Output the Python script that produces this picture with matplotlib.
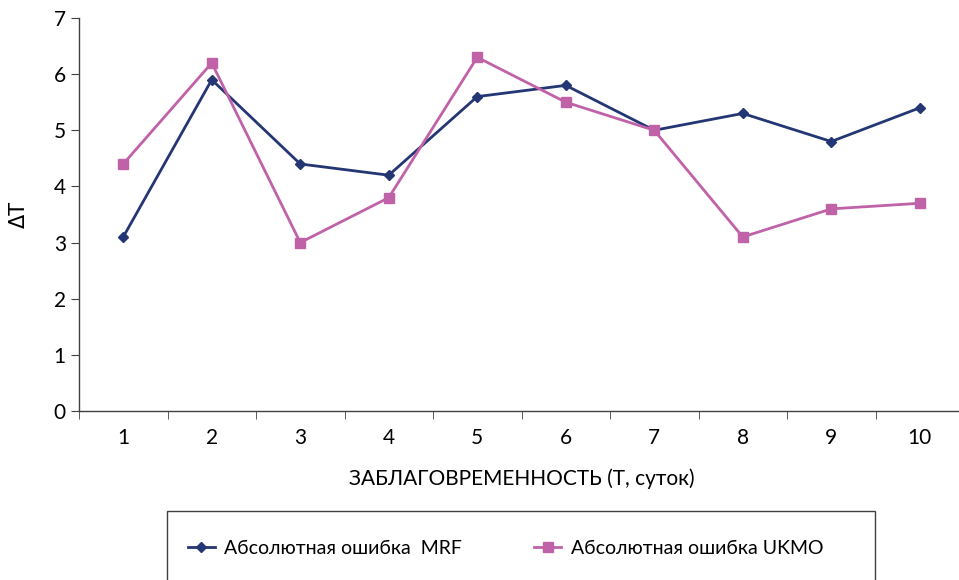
import matplotlib.pyplot as plt
import numpy as np
from matplotlib.patches import Rectangle

plt.rcParams["font.family"] = ["Lato", "DejaVu Sans"]

days = [1, 2, 3, 4, 5, 6, 7, 8, 9, 10]
mrf_err = [3.1, 5.9, 4.4, 4.2, 5.6, 5.8, 5.0, 5.3, 4.8, 5.4]
ukmo_err = [4.4, 6.2, 3.0, 3.8, 6.3, 5.5, 5.0, 3.1, 3.6, 3.7]
y_ticks = [0, 1, 2, 3, 4, 5, 6, 7]

W, H = 959, 580
fig = plt.figure(figsize=(W / 100, H / 100), dpi=100)
ax = fig.add_axes((79 / W, (H - 411) / H, (964 - 79) / W, (411 - 18) / H))

ax.plot(days, mrf_err, color="#243673", lw=2.0, marker="D", ms=5.5,
        label="Абсолютная ошибка  MRF")
ax.plot(days, ukmo_err, color="#C062A8", lw=2.0, marker="s", ms=7,
        label="Абсолютная ошибка UKMO")

ax.set_xlim(0.5, 10.5)
ax.set_ylim(0, 7)
ax.set_yticks(y_ticks)
ax.set_xticks(days)
ax.set_xticks(np.arange(0.5, 11, 1), minor=True)
ax.tick_params(axis="x", which="major", length=0, pad=12, labelsize=15)
ax.tick_params(axis="x", which="minor", length=6, direction="out", color="#404040")
ax.tick_params(axis="y", length=6, direction="out", labelsize=15, color="#404040")

for s in ("top", "right"):
    ax.spines[s].set_visible(False)
for s in ("left", "bottom"):
    ax.spines[s].set_color("#404040")
    ax.spines[s].set_linewidth(1.0)

ax.set_ylabel("ΔT", fontsize=15, family=["DejaVu Sans"], labelpad=18)
ax.set_xlabel("ЗАБЛАГОВРЕМЕННОСТЬ (Т, суток)", fontsize=15, labelpad=15)

# legend box (runs off the bottom edge)
fig.patches.append(Rectangle((167 / W, -0.05), (875 - 167) / W, (H - 511) / H + 0.05,
                             transform=fig.transFigure, fill=False,
                             edgecolor="#404040", lw=1.0))
fig.legend(loc="center left", bbox_to_anchor=(170 / W, 1 - 548 / H), ncol=2,
           frameon=False, fontsize=14, handlelength=1.4, columnspacing=3.7,
           handletextpad=0.5)

fig.savefig("out.png", dpi=100)
